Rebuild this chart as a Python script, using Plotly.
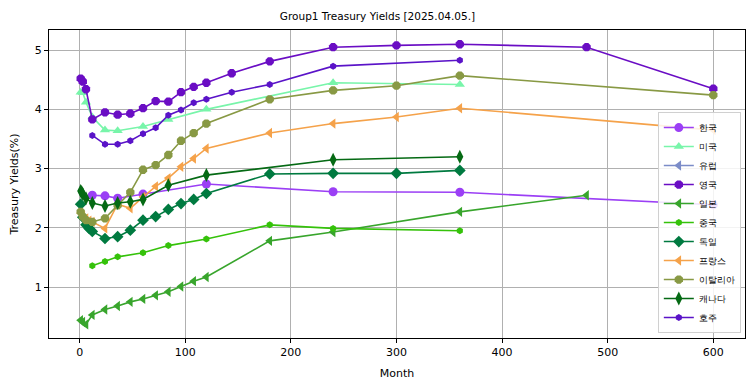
import plotly.graph_objects as go

# ---- data (months to maturity, yields %) ----
korea_m = [12, 24, 36, 60, 120, 240, 360, 600]
korea_y = [2.55, 2.54, 2.50, 2.57, 2.74, 2.61, 2.60, 2.39]

us_m = [1, 3, 6, 12, 24, 36, 60, 84, 120, 240, 360]
us_y = [4.29, 4.28, 4.12, 3.87, 3.65, 3.64, 3.71, 3.83, 4.00, 4.45, 4.42]

# Europe appears in the legend only (no values drawn)
eu_m = [12, 24, 60, 120]
eu_y = [None, None, None, None]

uk_m = [1, 3, 6, 12, 24, 36, 48, 60, 72, 84, 96, 108, 120, 144, 180, 240, 300, 360, 480, 600]
uk_y = [4.52, 4.47, 4.34, 3.83, 3.95, 3.91, 3.93, 4.02, 4.14, 4.13, 4.29, 4.38, 4.45, 4.61, 4.81, 5.05, 5.08, 5.10, 5.05, 4.35]

jp_m = [1, 3, 6, 12, 24, 36, 48, 60, 72, 84, 96, 108, 120, 180, 240, 360, 480]
jp_y = [0.44, 0.41, 0.37, 0.53, 0.62, 0.68, 0.75, 0.80, 0.86, 0.92, 1.01, 1.10, 1.17, 1.78, 1.93, 2.27, 2.55]

cn_m = [12, 24, 36, 60, 84, 120, 180, 240, 360]
cn_y = [1.36, 1.43, 1.51, 1.58, 1.70, 1.81, 2.05, 1.99, 1.95]

de_m = [1, 3, 6, 9, 12, 24, 36, 48, 60, 72, 84, 96, 108, 120, 180, 240, 300, 360]
de_y = [2.40, 2.18, 2.05, 1.99, 1.94, 1.82, 1.85, 1.96, 2.13, 2.19, 2.31, 2.41, 2.48, 2.58, 2.91, 2.92, 2.92, 2.97]

fr_m = [1, 3, 6, 9, 12, 24, 36, 48, 60, 72, 84, 96, 108, 120, 180, 240, 300, 360, 600]
fr_y = [2.25, 2.20, 2.16, 2.12, 2.10, 1.99, 2.40, 2.33, 2.52, 2.70, 2.84, 3.03, 3.17, 3.34, 3.60, 3.76, 3.87, 4.02, 3.65]

it_m = [1, 3, 6, 12, 24, 36, 48, 60, 72, 84, 96, 108, 120, 180, 240, 300, 360, 600]
it_y = [2.27, 2.19, 2.13, 2.10, 2.16, 2.38, 2.60, 2.98, 3.06, 3.23, 3.47, 3.60, 3.76, 4.17, 4.32, 4.40, 4.57, 4.24]

ca_m = [1, 2, 3, 6, 12, 24, 36, 48, 60, 84, 120, 240, 360]
ca_y = [2.62, 2.60, 2.57, 2.50, 2.42, 2.37, 2.42, 2.44, 2.48, 2.72, 2.89, 3.15, 3.20]

au_m = [12, 24, 36, 48, 60, 72, 84, 96, 108, 120, 144, 180, 240, 360]
au_y = [3.56, 3.41, 3.41, 3.47, 3.59, 3.69, 3.90, 3.99, 4.11, 4.17, 4.29, 4.42, 4.73, 4.83]

x_ticks = [0, 100, 200, 300, 400, 500, 600]
y_ticks = [1, 2, 3, 4, 5]

series = [
    ("한국", korea_m, korea_y, "#9b3ff5", "circle", 9),
    ("미국", us_m, us_y, "#78f5aa", "triangle-up", 9),
    ("유럽", eu_m, eu_y, "#7b8cc8", "triangle-left", 9),
    ("영국", uk_m, uk_y, "#6a0dc4", "octagon", 9),
    ("일본", jp_m, jp_y, "#38a52c", "triangle-left", 9),
    ("중국", cn_m, cn_y, "#35c20a", "hexagon", 7),
    ("독일", de_m, de_y, "#007a40", "diamond", 9),
    ("프랑스", fr_m, fr_y, "#f5a24a", "triangle-left", 9),
    ("이탈리아", it_m, it_y, "#889944", "octagon", 9),
    ("캐나다", ca_m, ca_y, "#056a14", "diamond-tall", 10),
    ("호주", au_m, au_y, "#5a13c8", "hexagon", 7),
]

fig = go.Figure()
for name, xm, yv, col, sym, sz in series:
    fig.add_trace(go.Scatter(
        x=xm, y=yv, name=name, mode="lines+markers",
        line=dict(color=col, width=1.6),
        marker=dict(color=col, symbol=sym, size=sz, line=dict(width=0)),
        showlegend=True,
    ))

axis_common = dict(
    showgrid=True, gridcolor="#b0b0b0", gridwidth=1,
    showline=True, linecolor="black", linewidth=1, mirror=True,
    ticks="outside", ticklen=4, tickcolor="black",
    zeroline=False, tickfont=dict(size=11, color="black"),
    automargin=False,
)

# the page body adds an 8px margin, so the figure is sized to fit inside it
fig.update_layout(
    width=739, height=375,
    paper_bgcolor="white", plot_bgcolor="white",
    font=dict(family="DejaVu Sans", color="black"),
    margin=dict(l=41, r=2, t=22, b=45),
    title=dict(text="Group1 Treasury Yields [2025.04.05.]", x=0.5, xanchor="center",
               y=0.979, yanchor="middle", font=dict(size=10.5)),
    xaxis=dict(range=[-29, 630], tickvals=x_ticks,
               title=dict(text="Month", font=dict(size=11), standoff=11), **axis_common),
    yaxis=dict(range=[0.14, 5.34], tickvals=y_ticks,
               title=dict(text="Treasury Yields(%)", font=dict(size=11), standoff=14), **axis_common),
    legend=dict(x=0.994, y=0.016, xanchor="right", yanchor="bottom",
                bgcolor="rgba(255,255,255,0.85)", bordercolor="#d0d0d0", borderwidth=1,
                font=dict(size=9), tracegroupgap=0, itemwidth=30),
    showlegend=True,
)

fig.write_html("out.html")
